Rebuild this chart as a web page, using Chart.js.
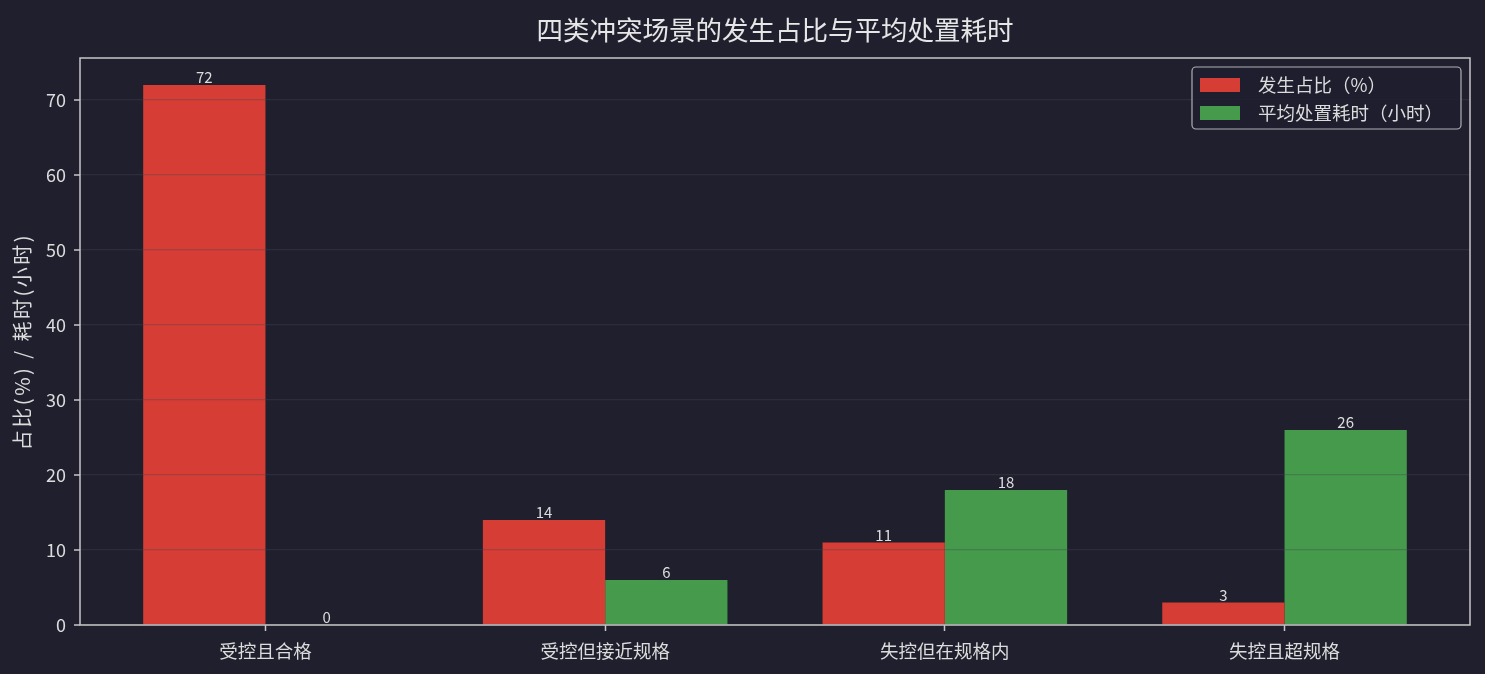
<!DOCTYPE html>
<html>
<head>
<meta charset="utf-8">
<script src="https://cdn.jsdelivr.net/npm/chart.js@4"></script>
<style>
  html, body { margin: 0; padding: 0; background: #1f1f2e; }
  #wrap { width: 1485px; height: 674px; }
</style>
</head>
<body>
<div id="wrap"><canvas id="chart" width="1485" height="674"></canvas></div>
<script>
const categories = ["受控且合格", "受控但接近规格", "失控但在规格内", "失控且超规格"];
const shareValues = [72, 14, 11, 3];
const hoursValues = [0, 6, 18, 26];
const yTicks = [0, 10, 20, 30, 40, 50, 60, 70];
const seriesNames = ["发生占比（%）", "平均处置耗时（小时）"];

const FONT = "'Noto Sans CJK SC', 'Noto Sans', sans-serif";
const textColor = "#dcdcdc";
const spineColor = "#c8c8c8";
const redColor = "#d63d35";
const greenColor = "#459a4b";

// title, frame, legend, y label, value labels
const decorPlugin = {
  id: "decor",
  afterDatasetsDraw(chart) {
    const ctx = chart.ctx;
    ctx.save();
    ctx.font = "15px " + FONT;
    ctx.fillStyle = textColor;
    ctx.textAlign = "center";
    ctx.textBaseline = "bottom";
    chart.data.datasets.forEach((ds, i) => {
      chart.getDatasetMeta(i).data.forEach((el, j) => {
        ctx.fillText(String(ds.data[j].y), el.x, el.y);
      });
    });
    ctx.restore();
  },
  afterDraw(chart) {
    const ctx = chart.ctx;
    const a = chart.chartArea;
    const yScale = chart.scales.y;
    ctx.save();
    // frame
    ctx.strokeStyle = spineColor;
    ctx.lineWidth = 1.5;
    ctx.strokeRect(a.left, a.top, a.right - a.left, a.bottom - a.top);
    // y tick marks
    ctx.beginPath();
    yTicks.forEach((v) => {
      const y = yScale.getPixelForValue(v);
      ctx.moveTo(a.left - 6, y);
      ctx.lineTo(a.left, y);
    });
    ctx.stroke();

    // title
    ctx.font = "26.5px " + FONT;
    ctx.fillStyle = "#e6e6e6";
    ctx.textAlign = "center";
    ctx.textBaseline = "middle";
    ctx.fillText("四类冲突场景的发生占比与平均处置耗时", (a.left + a.right) / 2, 30);

    // y axis label
    ctx.save();
    ctx.translate(22, (a.top + a.bottom) / 2);
    ctx.rotate(-Math.PI / 2);
    ctx.font = "20px " + FONT;
    ctx.letterSpacing = "2.5px";
    ctx.fillStyle = textColor;
    ctx.fillText("占比(%) / 耗时(小时)", 0, 0);
    ctx.restore();

    // legend
    const lx = 1192, ly = 67, lw = 269, lh = 62;
    ctx.fillStyle = "rgba(31,31,46,0.85)";
    ctx.strokeStyle = "#b0b0b8";
    ctx.lineWidth = 1.2;
    ctx.beginPath();
    ctx.roundRect(lx, ly, lw, lh, 4);
    ctx.fill();
    ctx.stroke();
    ctx.font = "18.5px " + FONT;
    ctx.textAlign = "left";
    ctx.textBaseline = "middle";
    chart.data.datasets.forEach((ds, i) => {
      const y = ly + 11 + i * 28;
      ctx.fillStyle = ds.backgroundColor;
      ctx.fillRect(lx + 8, y, 40, 14);
      ctx.fillStyle = textColor;
      ctx.fillText(ds.label, lx + 66, y + 7);
    });
    ctx.restore();
  }
};

const ctx = document.getElementById("chart").getContext("2d");
new Chart(ctx, {
  type: "bar",
  data: {
    datasets: [
      {
        label: seriesNames[0],
        data: shareValues.map((v, i) => ({ x: i, y: v })),
        backgroundColor: redColor,
        categoryPercentage: 0.72,
        barPercentage: 1.0,
      },
      {
        label: seriesNames[1],
        data: hoursValues.map((v, i) => ({ x: i, y: v })),
        backgroundColor: greenColor,
        categoryPercentage: 0.72,
        barPercentage: 1.0,
      },
    ],
  },
  options: {
    responsive: false,
    animation: false,
    devicePixelRatio: 1,
    layout: { padding: { top: 58, right: 15, left: 0, bottom: 0 } },
    plugins: {
      legend: { display: false },
      title: { display: false },
      tooltip: { enabled: false },
    },
    scales: {
      x: {
        type: "linear",
        offset: false,
        min: -0.546,
        max: 3.546,
        afterBuildTicks: (scale) => {
          scale.ticks = categories.map((c, i) => ({ value: i }));
        },
        afterFit: (scale) => { scale.height = 49; },
        grid: {
          offset: false,
          drawOnChartArea: false,
          drawTicks: true,
          tickLength: 6,
          tickColor: spineColor,
          tickWidth: 1.5,
        },
        border: { display: false },
        ticks: {
          autoSkip: false,
          maxRotation: 0,
          padding: 9,
          color: textColor,
          font: { family: FONT, size: 18.5 },
          callback: (v) => categories[v],
        },
      },
      y: {
        min: 0,
        max: 75.6,
        afterBuildTicks: (scale) => {
          scale.ticks = yTicks.map((v) => ({ value: v }));
        },
        afterFit: (scale) => { scale.width = 80; },
        grid: {
          z: 1,
          color: "rgba(70,70,84,0.35)",
          lineWidth: 1.2,
          drawTicks: true,
          tickLength: 6,
          tickColor: "rgba(0,0,0,0)",
        },
        border: { display: false },
        ticks: {
          padding: 8,
          color: textColor,
          font: { family: FONT, size: 18 },
        },
      },
    },
  },
  plugins: [decorPlugin],
});
</script>
</body>
</html>
